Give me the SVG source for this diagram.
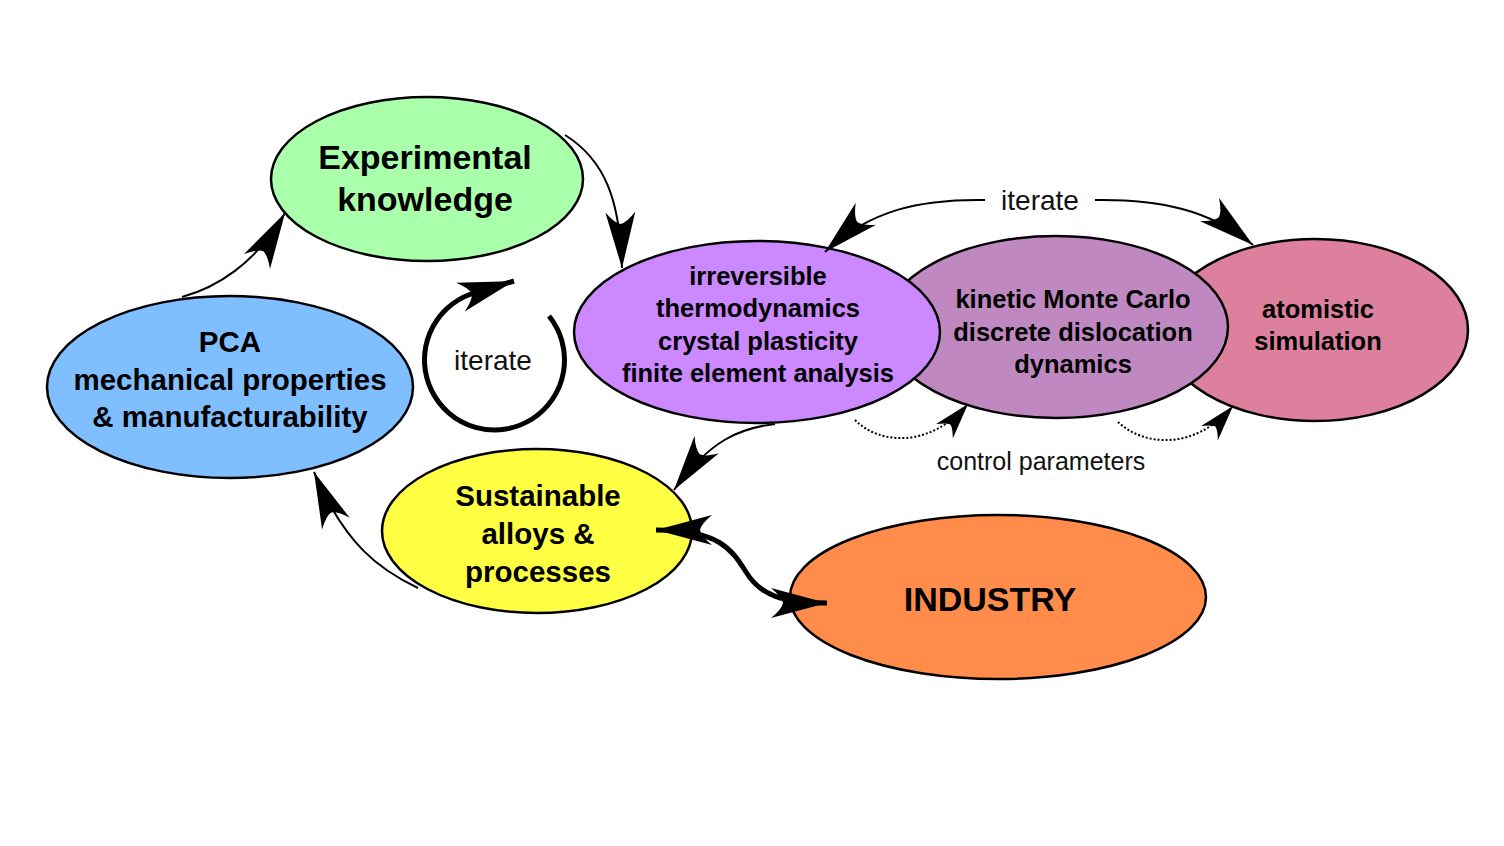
<svg xmlns="http://www.w3.org/2000/svg" width="1504" height="846" viewBox="0 0 1504 846">
<style>
.n{stroke:#000;stroke-width:2.5}
.t{font-family:"Liberation Sans",Arial,sans-serif;font-weight:bold;text-anchor:middle;fill:#000}
.l{font-family:"Liberation Sans",Arial,sans-serif;text-anchor:middle;fill:#111}
.c{fill:none;stroke:#000}
</style>
<defs>
<marker id="big" markerUnits="userSpaceOnUse" markerWidth="60" markerHeight="30" refX="56" refY="15" orient="auto" overflow="visible">
<path d="M56,15 L0,0 Q11,9 12,15 Q11,21 0,30 Z" fill="#000"/>
</marker>
<marker id="bigs" markerUnits="userSpaceOnUse" markerWidth="60" markerHeight="30" refX="56" refY="15" orient="auto-start-reverse" overflow="visible">
<path d="M56,15 L0,0 Q11,9 12,15 Q11,21 0,30 Z" fill="#000"/>
</marker>
<marker id="sm" markerUnits="userSpaceOnUse" markerWidth="40" markerHeight="22" refX="36" refY="11" orient="auto" overflow="visible">
<path d="M36,11 L0,0 Q8,7 9,11 Q8,15 0,22 Z" fill="#000"/>
</marker>
</defs>
<rect width="1504" height="846" fill="#fff"/>
<g id="atomistic">
<ellipse class="n" cx="1315" cy="330" rx="153" ry="91" fill="#dd809d"/>
<text class="t" font-size="25.5" x="1318" y="318">atomistic</text>
<text class="t" font-size="25.5" x="1318" y="350">simulation</text>
</g>
<g id="kmc">
<ellipse class="n" cx="1056" cy="327" rx="172" ry="91" fill="#c088c0"/>
<text class="t" font-size="25.5" x="1073" y="308">kinetic Monte Carlo</text>
<text class="t" font-size="25.5" x="1073" y="341">discrete dislocation</text>
<text class="t" font-size="25.5" x="1073" y="373">dynamics</text>
</g>
<g id="continuum">
<ellipse class="n" cx="757" cy="332" rx="183" ry="91" fill="#cc88ff"/>
<text class="t" font-size="25.5" x="758" y="285">irreversible</text>
<text class="t" font-size="25.5" x="758" y="317">thermodynamics</text>
<text class="t" font-size="25.5" x="758" y="350">crystal plasticity</text>
<text class="t" font-size="25.5" x="758" y="382">finite element analysis</text>
</g>
<g id="experimental">
<ellipse class="n" cx="427" cy="179" rx="156" ry="82" fill="#aaffaa"/>
<text class="t" font-size="34" x="425" y="169">Experimental</text>
<text class="t" font-size="34" x="425" y="211">knowledge</text>
</g>
<g id="pca">
<ellipse class="n" cx="230" cy="387" rx="183" ry="91" fill="#80bfff"/>
<text class="t" font-size="29.5" x="230" y="352">PCA</text>
<text class="t" font-size="29.5" x="230" y="390">mechanical properties</text>
<text class="t" font-size="29.5" x="230" y="427">&amp; manufacturability</text>
</g>
<g id="sustainable">
<ellipse class="n" cx="537" cy="531" rx="155" ry="82" fill="#ffff44"/>
<text class="t" font-size="29.5" x="538" y="506">Sustainable</text>
<text class="t" font-size="29.5" x="538" y="544">alloys &amp;</text>
<text class="t" font-size="29.5" x="538" y="582">processes</text>
</g>
<g id="industry">
<ellipse class="n" cx="998" cy="597" rx="208" ry="82" fill="#ff8c4a"/>
<text class="t" font-size="34" x="990" y="611">INDUSTRY</text>
</g>
<g id="connectors">
<path class="c" stroke-width="2" d="M182,297 C215,288 255,265 285,213" marker-end="url(#big)"/>
<path class="c" stroke-width="2" d="M565,135 C605,160 620,200 622,268" marker-end="url(#big)"/>
<path class="c" stroke-width="2" d="M775,424 C740,428 710,440 674,490" marker-end="url(#big)"/>
<path class="c" stroke-width="2" d="M418,588 C380,570 345,545 314,472" marker-end="url(#big)"/>
<path class="c" stroke-width="5" d="M656,530 C720,530 732,550 746,572 C760,595 782,603 827,603" marker-start="url(#bigs)" marker-end="url(#bigs)"/>
<path class="c" stroke-width="2" d="M985,200 C920,199 870,210 825,252" marker-end="url(#big)"/>
<path class="c" stroke-width="2" d="M1095,200 C1160,199 1210,210 1253,245" marker-end="url(#big)"/>
<path class="c" stroke-width="5" d="M549,316 A70,70 0 1 1 471,294 L514,281" marker-end="url(#big)"/>
<path class="c" stroke-width="2" stroke-dasharray="2,2" d="M855,420 C880,445 930,448 968,404" marker-end="url(#sm)"/>
<path class="c" stroke-width="2" stroke-dasharray="2,2" d="M1118,422 C1145,447 1195,450 1233,406" marker-end="url(#sm)"/>
</g>
<text class="l" font-size="28" x="1040" y="210">iterate</text>
<text class="l" font-size="28" x="493" y="370">iterate</text>
<text class="l" font-size="25" x="1041" y="470">control parameters</text>
</svg>
